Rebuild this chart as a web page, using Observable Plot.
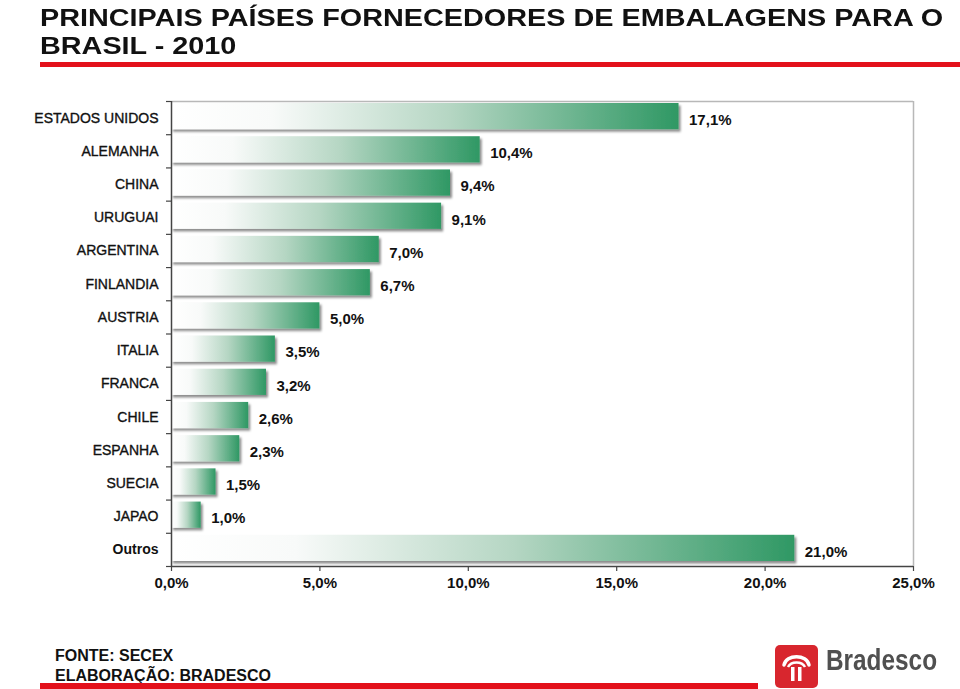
<!DOCTYPE html>
<html>
<head>
<meta charset="utf-8">
<script src="https://cdn.jsdelivr.net/npm/d3@7"></script>
<script src="https://cdn.jsdelivr.net/npm/@observablehq/plot@0.6"></script>
<style>
  html, body { margin: 0; padding: 0; background: #fff; }
  #wrap { position: relative; width: 960px; height: 689px; overflow: hidden; font-family: "Liberation Sans", Arial, sans-serif; }
  #title { position: absolute; left: 40px; top: 4px; font-size: 24px; font-weight: bold; line-height: 28px; color: #111; white-space: nowrap; transform: scaleX(1.2); transform-origin: 0 0; }
  #redTop { position: absolute; left: 40px; top: 62px; width: 920px; height: 5px; background: #e3111b; }
  #chart { position: absolute; left: 0; top: 0; }
  #footer { position: absolute; left: 55px; top: 646px; font-size: 16px; font-weight: bold; line-height: 20px; color: #111; }
  #redBottom { position: absolute; left: 40px; top: 683px; width: 718px; height: 6px; background: #e3111b; }
  #logo { position: absolute; left: 775px; top: 645px; }
  #logoText { position: absolute; left: 826px; top: 644px; font-size: 29px; font-weight: bold; color: #505050; transform: scaleX(0.84); transform-origin: 0 0; }
</style>
</head>
<body>
<div id="wrap">
  <div id="title">PRINCIPAIS PAÍSES FORNECEDORES DE EMBALAGENS PARA O<br>BRASIL - 2010</div>
  <div id="redTop"></div>
  <div id="chart"></div>
  <div id="footer">FONTE: SECEX<br>ELABORAÇÃO: BRADESCO</div>
  <div id="redBottom"></div>
  <svg id="logo" width="43" height="43" viewBox="0 0 43 43">
    <rect x="0" y="0" width="43" height="43" rx="5" fill="#d8262e"/>
    <path d="M9 20 C11 9, 32 9, 34 20" fill="none" stroke="#fff" stroke-width="3.5" stroke-linecap="round"/>
    <path d="M13 22 C16 16, 27 16, 30 22" fill="none" stroke="#fff" stroke-width="2.5"/>
    <rect x="16" y="22" width="3.5" height="14" fill="#fff"/>
    <rect x="23" y="22" width="3.5" height="14" fill="#fff"/>
  </svg>
  <div id="logoText">Bradesco</div>
</div>
<script>
const categories = ["ESTADOS UNIDOS","ALEMANHA","CHINA","URUGUAI","ARGENTINA","FINLANDIA","AUSTRIA","ITALIA","FRANCA","CHILE","ESPANHA","SUECIA","JAPAO","Outros"];
const shares = [17.1,10.4,9.4,9.1,7.0,6.7,5.0,3.5,3.2,2.6,2.3,1.5,1.0,21.0];
const shareLabels = ["17,1%","10,4%","9,4%","9,1%","7,0%","6,7%","5,0%","3,5%","3,2%","2,6%","2,3%","1,5%","1,0%","21,0%"];
const xTicks = [0,5,10,15,20,25];
const xTickLabels = ["0,0%","5,0%","10,0%","15,0%","20,0%","25,0%"];

const rows = categories.map((c, i) => ({cat: c, i, v: shares[i], label: shareLabels[i]}));
const boundaries = d3.range(categories.length + 1);

const chart = Plot.plot({
  width: 960,
  height: 689,
  marginLeft: 171,
  marginRight: 47,
  marginTop: 101,
  marginBottom: 123,
  style: {fontFamily: "Liberation Sans, Arial, sans-serif", background: "transparent"},
  x: {domain: [0, 25], label: null},
  y: {domain: [categories.length, 0], label: null},
  marks: [
    Plot.ruleY([0], {stroke: "#b8b8b8", strokeWidth: 1.5}),
    Plot.ruleX([25], {stroke: "#b8b8b8", strokeWidth: 1.5}),
    Plot.rectX(rows, {x1: 0, x2: "v", y1: "i", y2: d => d.i + 1, insetTop: 2, insetBottom: 5, fill: "url(#barGrad)"}),
    Plot.text(rows, {x: "v", y: d => d.i + 0.5, text: "label", textAnchor: "start", dx: 10, dy: 2, fontSize: 15, fontWeight: "bold", fill: "#111"}),
    Plot.text(rows.filter(d => d.cat !== "Outros"), {x: 0, y: d => d.i + 0.5, text: "cat", textAnchor: "end", dx: -13, fontSize: 14, fill: "#111", stroke: "#111", strokeWidth: 0.35}),
    Plot.text(rows.filter(d => d.cat === "Outros"), {x: 0, y: d => d.i + 0.5, text: "cat", textAnchor: "end", dx: -13, fontSize: 14, fontWeight: "bold", fill: "#111"}),
    Plot.axisY(boundaries, {tickSize: 5, tickFormat: () => "", stroke: "#444", strokeWidth: 1.2, label: null}),
    Plot.axisX({ticks: xTicks, tickFormat: (d) => xTickLabels[xTicks.indexOf(d)], tickSize: 5, tickPadding: 6, fontSize: 15, fontWeight: "bold", fill: "#111", stroke: "#444", strokeWidth: 1.2, label: null}),
    Plot.ruleX([0], {stroke: "#444", strokeWidth: 1.5}),
    Plot.ruleY([categories.length], {stroke: "#444", strokeWidth: 1.5})
  ]
});

const svgSel = d3.select(chart);
const defs = svgSel.insert("defs", ":first-child");
const grad = defs.append("linearGradient").attr("id", "barGrad").attr("x1", "0").attr("y1", "0").attr("x2", "1").attr("y2", "0");
grad.append("stop").attr("offset", "0").attr("stop-color", "#ffffff");
grad.append("stop").attr("offset", "0.2").attr("stop-color", "#f8faf9");
grad.append("stop").attr("offset", "0.55").attr("stop-color", "#b5d6c3");
grad.append("stop").attr("offset", "1").attr("stop-color", "#2f9864");
const filt = defs.append("filter").attr("id", "barShadow").attr("x", "-5%").attr("y", "-20%").attr("width", "120%").attr("height", "170%");
filt.append("feDropShadow").attr("dx", 2).attr("dy", 2.5).attr("stdDeviation", 1).attr("flood-color", "#000").attr("flood-opacity", 0.45);
svgSel.selectAll("g[aria-label='rect'] rect").attr("filter", "url(#barShadow)");

document.getElementById("chart").appendChild(chart);
</script>
</body>
</html>
